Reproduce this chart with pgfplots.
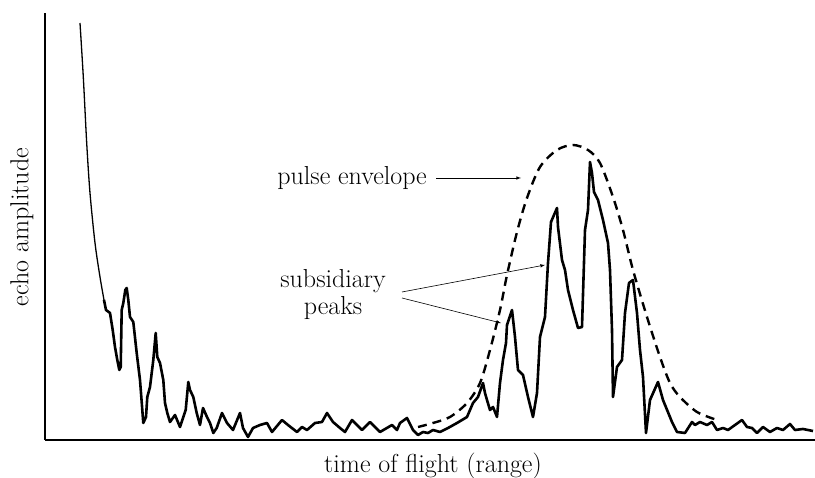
\documentclass[border=0pt]{standalone}
\usepackage{pgfplots}
\pgfplotsset{compat=1.18}
\begin{document}
\begin{tikzpicture}
\useasboundingbox (-45pt,-38pt) rectangle (770pt,440pt);
\begin{axis}[
  scale only axis, width=770pt, height=427pt,
  xmin=45, xmax=815, ymin=0, ymax=427,
  axis x line*=bottom, axis y line*=left,
  axis line style={line width=2.2pt, -},
  ticks=none, clip=false,
]
% thin initial decay (pixel coordinates, y measured from top)
\addplot[black, line width=1.3pt, smooth] table[x=x, y expr=440-\thisrow{y}] {
x y
80 23
83.3 77
86.7 143
90 193
95 243
100 277
104 300
};
% main echo trace
\addplot[black, line width=2.6pt, line join=round] table[x=x, y expr=440-\thisrow{y}] {
x y
104 300
106 310
110 313
112.7 330
115 347
117.3 360
119.3 370
120.7 367
121.7 310
123.3 303
125.3 290
126.7 288
128.3 300
130 317
133.3 322
136.7 353
140 380
143.3 423
146 417
147.3 397
150 387
153.3 360
155.7 333
157.3 357
160 363
163.3 380
165 403
167.3 413
170 422
175 415
180 427
185.7 410
188.3 382
190 390
193.3 397
196.7 413
200 425
203 408
207 417
210 423
213.3 433
216.7 428
222 413
227 423
233 430
240 413
243 428
248 437
253 428
260 425
267 423
272 432
282 420
288 425
297 432
302 427
307 430
315 423
322 422
327 413
333 422
340 428
345 432
352 420
357 425
362 430
370 422
380 432
392 425
397 430
400 423
407 418
413 430
418 435
423 432
428 433
433 430
440 432
448 428
457 423
467 417
473 403
478 397
483 383
485 393
487 400
490 410
493 407
497 417
500 383
503 360
506 343
507 325
512 310
515 337
518 370
523 375
528 397
533 417
537 393
540 337
545 317
548 263
551 222
557 208
558 227
562 260
565 270
568 290
573 310
578 328
582 327
585 230
588 210
590 162
592 173
594 192
598 200
603 220
608 243
610 270
612 330
613 397
617 367
622 360
625 313
629 283
633 280
637 313
640 350
643 377
646 433
650 400
658 382
663 400
672 422
677 432
685 433
692 422
695 425
700 422
707 425
712 422
717 430
723 428
728 430
735 425
742 420
747 427
752 428
757 433
763 427
770 432
777 428
783 430
790 424
795 430
803 429
813 431
};
% pulse envelope
\addplot[black, line width=2.4pt, dash pattern=on 9pt off 6pt, smooth] table[x=x, y expr=440-\thisrow{y}] {
x y
418 427
433 423
450 417
467 403
480 383
490 350
500 310
507 275
517 232
527 198
540 167
557 150
573 145
588 150
600 163
613 197
623 230
633 270
647 317
660 357
670 383
680 397
697 412
717 420
};
\tikzset{lbl/.style={font=\fontsize{26}{27}\selectfont, inner sep=0pt}}
\node[lbl, anchor=east] at (axis cs:427,262) {pulse envelope};
\draw[-latex, line width=0.6pt] (axis cs:436,262) -- (axis cs:521,262);
\node[lbl, align=center] at (axis cs:333,145) {subsidiary\\peaks};
\draw[-latex, line width=0.6pt] (axis cs:402,148) -- (axis cs:545,175);
\draw[-latex, line width=0.6pt] (axis cs:402,142) -- (axis cs:501,117);
\node[lbl, rotate=90] at (axis cs:22,213) {echo amplitude};
\node[lbl] at (axis cs:433,-26) {time of flight (range)};
\end{axis}
\end{tikzpicture}
\end{document}
